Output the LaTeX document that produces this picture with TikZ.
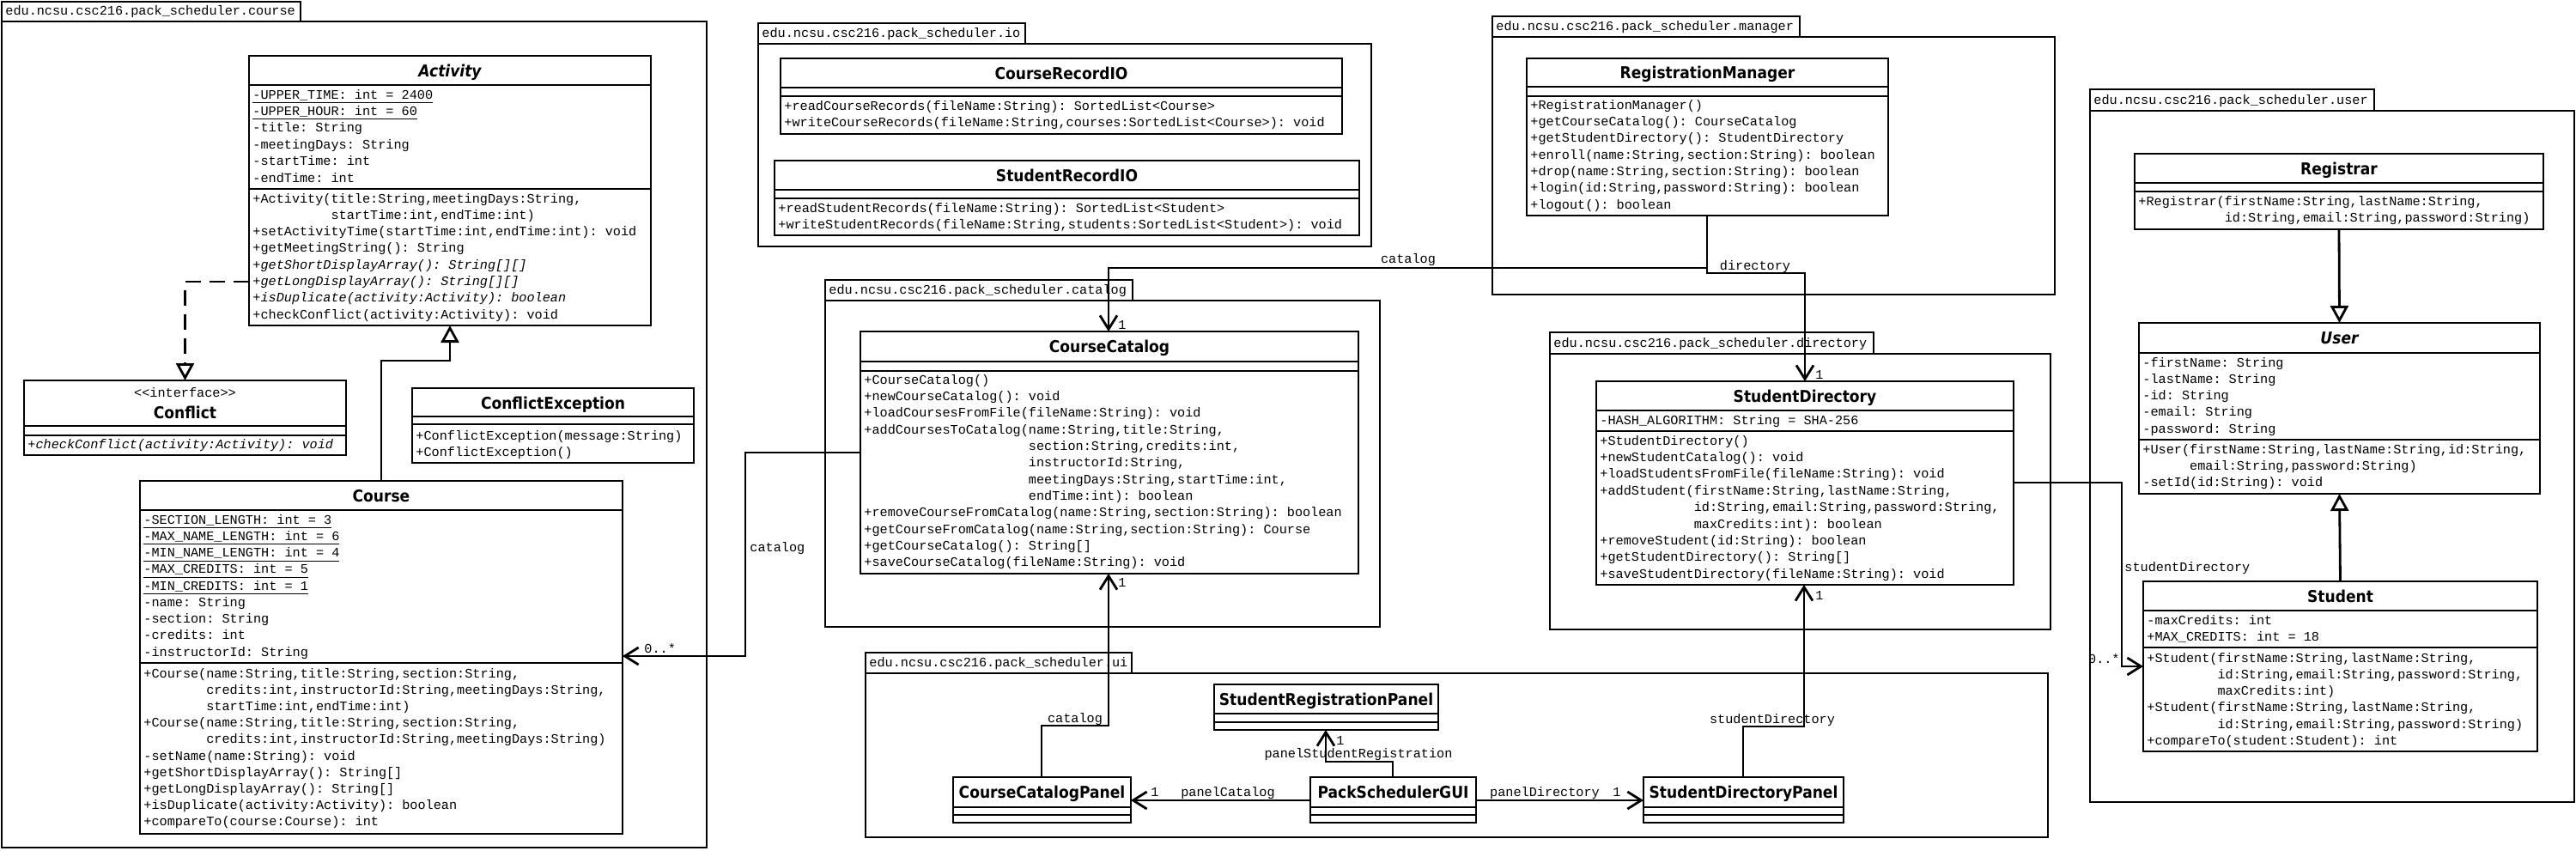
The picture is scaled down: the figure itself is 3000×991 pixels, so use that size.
\documentclass[tikz,border=0pt]{standalone}
\usepackage{fontspec}
\setmonofont{Liberation Mono}
\newfontfamily\clsfont{DejaVu Sans}[FakeStretch=0.9]
\usetikzlibrary{arrows.meta}
\tikzset{
 lw/.style={line width=1.4pt},
 classbox/.style={draw, lw, fill=white, inner sep=0pt, outer sep=0pt, anchor=north west},
 pkgbox/.style={draw, lw, inner sep=0pt, outer sep=0pt, anchor=north west},
 mem/.style={anchor=base west, inner sep=0pt, font=\ttfamily\fontsize{7.6}{9}\selectfont},
 memc/.style={mem, anchor=base},
 cname/.style={anchor=base, inner sep=0pt, font=\clsfont\bfseries\fontsize{9.5}{11}\selectfont},
 cnamei/.style={cname, font=\clsfont\bfseries\itshape\fontsize{9.5}{11}\selectfont},
 assoc/.style={lw, -{Straight Barb[length=8pt,width=10pt,line width=1.4pt]}},
 gen/.style={lw, -{Triangle[open,length=10pt,width=10.5pt,fill=white,line width=1.4pt]}},
 realize/.style={gen, dash pattern=on 9pt off 5pt},
}
\newcommand\umlclass[7]{%
 \node[classbox, minimum width={(#4-#2)*0.5pt}, minimum height={(#5-#3)*0.5pt}] (#1) at (#2,#3) {};
 \draw[lw] (#2,#6) -- (#4,#6) (#2,#7) -- (#4,#7);}
\newcommand\umlmembers[5]{%
 \foreach \memb [count=\mi] in {#5} {\node[mem] (#1-\mi) at (#2,{#3+(\mi-1)*#4}) {\memb};}}
\newcommand\umlpkg[8]{%
 \node[pkgbox, minimum width={(#5-#3)*0.5pt}, minimum height={(#6-#4)*0.5pt}] (#1-tab) at (#3,#4) {};
 \node[pkgbox, minimum width={(#7-#3)*0.5pt}, minimum height={(#8-#6)*0.5pt}] (#1) at (#3,#6) {};
 \node[mem] (#1-lbl) at ({#3+4},{#6-7.5}) {#2};}
\begin{document}
\begin{tikzpicture}[x=0.5pt,y=-0.5pt]
\useasboundingbox (0,0) rectangle (3000,991);
\fill[white] (0,0) rectangle (3000,991);

% packages
\umlpkg{pcourse}{edu.ncsu.csc216.pack\_scheduler.course}{2}{2}{350}{25}{823}{987}
\umlpkg{pio}{edu.ncsu.csc216.pack\_scheduler.io}{883}{27}{1194}{51}{1597}{287}
\umlpkg{pman}{edu.ncsu.csc216.pack\_scheduler.manager}{1738}{19}{2096}{43}{2393}{343}
\umlpkg{pcat}{edu.ncsu.csc216.pack\_scheduler.catalog}{961}{326}{1319}{350}{1607}{730}
\umlpkg{pdir}{edu.ncsu.csc216.pack\_scheduler.directory}{1805}{387}{2182}{412}{2388}{733}
\umlpkg{pui}{edu.ncsu.csc216.pack\_scheduler.ui}{1008}{760}{1318}{784}{2385}{975}
\umlpkg{puser}{edu.ncsu.csc216.pack\_scheduler.user}{2434}{104}{2765}{129}{2998}{934}

% Activity
\umlclass{act}{290}{65}{758}{379}{99}{220}
\node[cnamei] (act-n) at (524,89) {Activity};
\umlmembers{act-a}{294}{115}{19.4}{{\underline{-UPPER\_TIME: int = 2400}},{\underline{-UPPER\_HOUR: int = 60}},{-title: String},{-meetingDays: String},{-startTime: int},{-endTime: int}}
\umlmembers{act-m}{294}{236}{19.3}{{+Activity(title:String,meetingDays:String,},{\phantom{+Activity(}startTime:int,endTime:int)},{+setActivityTime(startTime:int,endTime:int): void},{+getMeetingString(): String},{\itshape +getShortDisplayArray(): String[][]},{\itshape +getLongDisplayArray(): String[][]},{\itshape +isDuplicate(activity:Activity): boolean},{+checkConflict(activity:Activity): void}}

% Conflict
\umlclass{conf}{28}{443}{403}{530}{496}{507}
\node[memc] (conf-s) at (215.5,462) {<<interface>>};
\node[cname] (conf-n) at (215.5,487) {Conflict};
\umlmembers{conf-m}{32}{522}{19}{{\itshape +checkConflict(activity:Activity): void}}

% ConflictException
\umlclass{confx}{480}{452}{808}{539}{485}{494}
\node[cname] (confx-n) at (644,476) {ConflictException};
\umlmembers{confx-m}{484}{512}{19}{{+ConflictException(message:String)},{+ConflictException()}}

% Course
\umlclass{course}{163}{560}{725}{971}{594}{772}
\node[cname] (course-n) at (444,584) {Course};
\umlmembers{course-a}{167}{610}{19.25}{{\underline{-SECTION\_LENGTH: int = 3}},{\underline{-MAX\_NAME\_LENGTH: int = 6}},{\underline{-MIN\_NAME\_LENGTH: int = 4}},{\underline{-MAX\_CREDITS: int = 5}},{\underline{-MIN\_CREDITS: int = 1}},{-name: String},{-section: String},{-credits: int},{-instructorId: String}}
\umlmembers{course-m}{167}{789}{19.2}{{+Course(name:String,title:String,section:String,},{\phantom{+Course(}credits:int,instructorId:String,meetingDays:String,},{\phantom{+Course(}startTime:int,endTime:int)},{+Course(name:String,title:String,section:String,},{\phantom{+Course(}credits:int,instructorId:String,meetingDays:String)},{-setName(name:String): void},{+getShortDisplayArray(): String[]},{+getLongDisplayArray(): String[]},{+isDuplicate(activity:Activity): boolean},{+compareTo(course:Course): int}}

% IO
\umlclass{crio}{909}{68}{1563}{156}{102}{112}
\node[cname] (crio-n) at (1236,92) {CourseRecordIO};
\umlmembers{crio-m}{913}{128}{19.5}{{+readCourseRecords(fileName:String): SortedList<Course>},{+writeCourseRecords(fileName:String,courses:SortedList<Course>): void}}
\umlclass{srio}{902}{187}{1583}{274}{221}{231}
\node[cname] (srio-n) at (1242.5,211) {StudentRecordIO};
\umlmembers{srio-m}{906}{247}{19.5}{{+readStudentRecords(fileName:String): SortedList<Student>},{+writeStudentRecords(fileName:String,students:SortedList<Student>): void}}

% RegistrationManager
\umlclass{rm}{1778}{68}{2199}{251}{101}{112}
\node[cname] (rm-n) at (1988.5,91.5) {RegistrationManager};
\umlmembers{rm-m}{1782}{127}{19.35}{{+RegistrationManager()},{+getCourseCatalog(): CourseCatalog},{+getStudentDirectory(): StudentDirectory},{+enroll(name:String,section:String): boolean},{+drop(name:String,section:String): boolean},{+login(id:String,password:String): boolean},{+logout(): boolean}}

% CourseCatalog
\umlclass{cc}{1002}{386}{1582}{668}{421}{432}
\node[cname] (cc-n) at (1292,410.5) {CourseCatalog};
\umlmembers{cc-m}{1006}{447}{19.35}{{+CourseCatalog()},{+newCourseCatalog(): void},{+loadCoursesFromFile(fileName:String): void},{+addCoursesToCatalog(name:String,title:String,},{\phantom{+addCoursesToCatalog(}section:String,credits:int,},{\phantom{+addCoursesToCatalog(}instructorId:String,},{\phantom{+addCoursesToCatalog(}meetingDays:String,startTime:int,},{\phantom{+addCoursesToCatalog(}endTime:int): boolean},{+removeCourseFromCatalog(name:String,section:String): boolean},{+getCourseFromCatalog(name:String,section:String): Course},{+getCourseCatalog(): String[]},{+saveCourseCatalog(fileName:String): void}}

% StudentDirectory
\umlclass{sd}{1859}{444}{2345}{681}{478}{502}
\node[cname] (sd-n) at (2102,468) {StudentDirectory};
\umlmembers{sd-a}{1863}{494}{19}{{-HASH\_ALGORITHM: String = SHA-256}}
\umlmembers{sd-m}{1863}{518}{19.4}{{+StudentDirectory()},{+newStudentCatalog(): void},{+loadStudentsFromFile(fileName:String): void},{+addStudent(firstName:String,lastName:String,},{\phantom{+addStudent(}id:String,email:String,password:String,},{\phantom{+addStudent(}maxCredits:int): boolean},{+removeStudent(id:String): boolean},{+getStudentDirectory(): String[]},{+saveStudentDirectory(fileName:String): void}}

% UI
\umlclass{ccp}{1110}{905}{1317}{958}{940}{949}
\node[cname] (ccp-n) at (1213.5,929.5) {CourseCatalogPanel};
\umlclass{srp}{1414}{797}{1675}{850}{831}{841}
\node[cname] (srp-n) at (1544.5,821) {StudentRegistrationPanel};
\umlclass{gui}{1526}{905}{1719}{958}{940}{949}
\node[cname] (gui-n) at (1622.5,929.5) {PackSchedulerGUI};
\umlclass{sdp}{1914}{905}{2147}{958}{940}{949}
\node[cname] (sdp-n) at (2030.5,929.5) {StudentDirectoryPanel};

% User package
\umlclass{reg}{2486}{179}{2962}{267}{213}{223}
\node[cname] (reg-n) at (2724,203) {Registrar};
\umlmembers{reg-m}{2490}{239}{19.5}{{+Registrar(firstName:String,lastName:String,},{\phantom{+Registrar(}id:String,email:String,password:String)}}
\umlclass{user}{2491}{376}{2958}{575}{411}{512}
\node[cnamei] (user-n) at (2724.5,400.5) {User};
\umlmembers{user-a}{2495}{427}{19.3}{{-firstName: String},{-lastName: String},{-id: String},{-email: String},{-password: String}}
\umlmembers{user-m}{2495}{528}{19.3}{{+User(firstName:String,lastName:String,id:String,},{\phantom{+User(}email:String,password:String)},{-setId(id:String): void}}
\umlclass{stu}{2496}{677}{2955}{875}{711}{754}
\node[cname] (stu-n) at (2725.5,701) {Student};
\umlmembers{stu-a}{2500}{727}{19.5}{{-maxCredits: int},{+MAX\_CREDITS: int = 18}}
\umlmembers{stu-m}{2500}{771}{19.3}{{+Student(firstName:String,lastName:String,},{\phantom{+Student(}id:String,email:String,password:String,},{\phantom{+Student(}maxCredits:int)},{+Student(firstName:String,lastName:String,},{\phantom{+Student(}id:String,email:String,password:String)},{+compareTo(student:Student): int}}

% connectors
\draw[gen] (444,0 |- course.north) -- (444,420) -| (act.south);
\draw[realize] (act.west |- 0,328) -| (conf.north);

\draw[assoc] (cc.west |- 0,527) -- (868,527) -- (868,764) -- (course.east |- 0,764);
\node[mem] (l-cat1) at (873,642) {catalog};
\node[mem] (l-m1) at (750,760) {0..*};

\draw[assoc] (1988,0 |- rm.south) -- (1988,312) -- (1291,312) -- (1291,0 |- cc.north);
\node[memc] (l-cat2) at (1640,306) {catalog};
\node[mem] (l-one1) at (1302,383) {1};
\draw[assoc] (1988,0 |- rm.south) -- (1988,318) -- (2102,318) -- (2102,0 |- sd.north);
\node[memc] (l-dir) at (2044,314) {directory};
\node[mem] (l-one2) at (2114,441) {1};

\draw[assoc] (sd.east |- 0,562) -- (2471,562) -- (2471,776) -- (stu.west |- 0,776);
\node[mem] (l-sd1) at (2474,665) {studentDirectory};
\node[mem, anchor=base east] (l-m2) at (2469,772) {0..*};

\draw[assoc] (gui.west |- 0,932) -- (ccp.east |- 0,932);
\node[memc] (l-one3) at (1345,927) {1};
\node[memc] (l-pc) at (1430,927) {panelCatalog};
\draw[assoc] (gui.east |- 0,932) -- (sdp.west |- 0,932);
\node[memc] (l-pd) at (1799,927) {panelDirectory};
\node[memc] (l-one4) at (1883,927) {1};
\draw[assoc] (1622,0 |- gui.north) -- (1622,887) -- (1544,887) -- (1544,0 |- srp.south);
\node[memc] (l-psr) at (1582,882) {panelStudentRegistration};
\node[mem] (l-one5) at (1556,867) {1};
\draw[assoc] (1213,0 |- ccp.north) -- (1213,845) -- (1291,845) -- (1291,0 |- cc.south);
\node[memc] (l-cat3) at (1252,841) {catalog};
\node[mem] (l-one6) at (1302,683) {1};
\draw[assoc] (2030,0 |- sdp.north) -- (2030,846) -- (2101,846) -- (2101,0 |- sd.south);
\node[memc] (l-sd2) at (2064,842) {studentDirectory};
\node[mem] (l-one7) at (2114,698) {1};

\draw[gen] (reg.south) -- (user.north);
\draw[gen] (stu.north) -- (user.south);
\end{tikzpicture}
\end{document}
